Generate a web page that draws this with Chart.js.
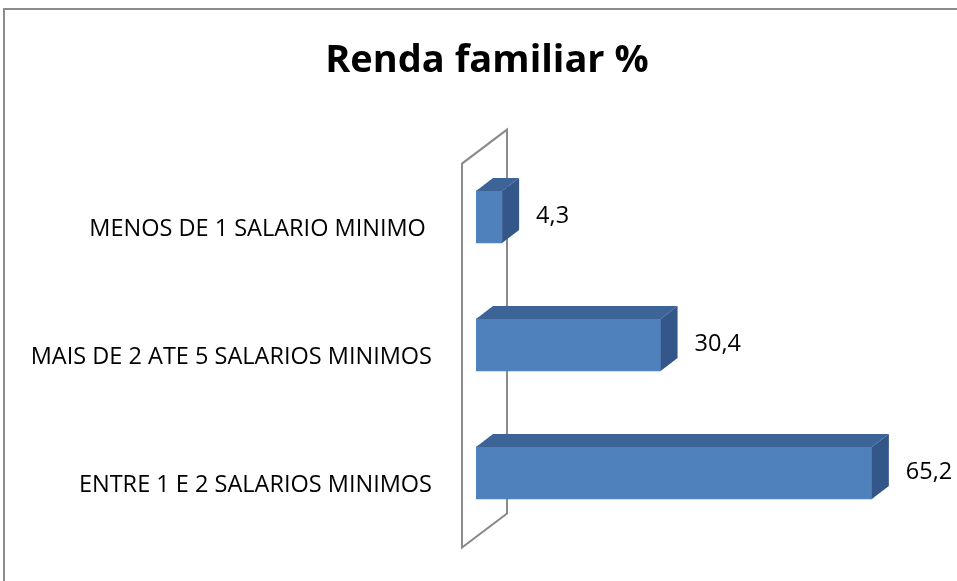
<!DOCTYPE html>
<html>
<head>
<meta charset="utf-8">
<script src="https://cdn.jsdelivr.net/npm/chart.js@4.4.0/dist/chart.umd.min.js"></script>
<style>
    body { margin: 0; background: #fff; }
    canvas { display: block; }
</style>
</head>
<body>
<canvas id="renda-chart" width="957" height="581"></canvas>
<script>
const categories = ['MENOS DE 1 SALARIO MINIMO ', 'MAIS DE 2 ATE 5 SALARIOS MINIMOS', 'ENTRE 1 E 2 SALARIOS MINIMOS'];
const rendaValues = [4.3, 30.4, 65.2];
const axisMax = 70;
const chartTitle = 'Renda familiar %';

const FONT = "'Open Sans', 'Noto Sans', sans-serif";
const DEPTH_X = 17, DEPTH_Y = -13;        // bar depth
const WALL_X = 45, WALL_Y = -34;          // wall depth
const WALL_FRONT_X = -14, WALL_FRONT_Y = 10.6; // wall front offset from bar front

// frame lines of the chart box + title
const framePlugin = {
    id: 'frame',
    beforeDraw(chart) {
        const ctx = chart.ctx;
        ctx.save();
        ctx.fillStyle = '#ffffff';
        ctx.fillRect(0, 0, chart.width, chart.height);
        ctx.strokeStyle = '#8c8c8c';
        ctx.lineWidth = 2;
        ctx.beginPath();
        ctx.moveTo(4, chart.height);
        ctx.lineTo(4, 9);
        ctx.lineTo(chart.width, 9);
        ctx.stroke();

        ctx.fillStyle = '#000000';
        ctx.font = 'bold 38px ' + FONT;
        ctx.textAlign = 'center';
        ctx.textBaseline = 'middle';
        ctx.fillText(chartTitle, 487, 61);
        ctx.restore();
    }
};

// 3d wall behind the bars, then side/top faces and value labels
const bar3dPlugin = {
    id: 'bar3d',
    beforeDatasetsDraw(chart) {
        const ctx = chart.ctx;
        const area = chart.chartArea;
        const x0 = chart.scales.x.getPixelForValue(0) + WALL_FRONT_X;
        const top = area.top + WALL_FRONT_Y;
        const bottom = area.bottom + WALL_FRONT_Y;
        ctx.save();
        ctx.fillStyle = '#ffffff';
        ctx.strokeStyle = '#8a8a8a';
        ctx.lineWidth = 2;
        ctx.beginPath();
        ctx.moveTo(x0, bottom);
        ctx.lineTo(x0, top);
        ctx.lineTo(x0 + WALL_X, top + WALL_Y);
        ctx.lineTo(x0 + WALL_X, bottom + WALL_Y);
        ctx.closePath();
        ctx.fill();
        ctx.stroke();
        ctx.restore();
    },
    afterDatasetsDraw(chart) {
        const ctx = chart.ctx;
        const meta = chart.getDatasetMeta(0);
        ctx.save();
        meta.data.forEach((bar, i) => {
            const left = bar.base, right = bar.x;
            const top = bar.y - bar.height / 2, bottom = bar.y + bar.height / 2;

            // top face
            ctx.fillStyle = '#3d6497';
            ctx.beginPath();
            ctx.moveTo(left, top);
            ctx.lineTo(left + DEPTH_X, top + DEPTH_Y);
            ctx.lineTo(right + DEPTH_X, top + DEPTH_Y);
            ctx.lineTo(right, top);
            ctx.closePath();
            ctx.fill();

            // side face
            ctx.fillStyle = '#34578a';
            ctx.beginPath();
            ctx.moveTo(right, top);
            ctx.lineTo(right + DEPTH_X, top + DEPTH_Y);
            ctx.lineTo(right + DEPTH_X, bottom + DEPTH_Y);
            ctx.lineTo(right, bottom);
            ctx.closePath();
            ctx.fill();

            // value label
            ctx.fillStyle = '#000000';
            ctx.font = '23.5px ' + FONT;
            ctx.textAlign = 'left';
            ctx.textBaseline = 'middle';
            ctx.fillText(String(rendaValues[i]).replace('.', ','), right + 34, bar.y - 1);
        });
        ctx.restore();
    }
};

new Chart(document.getElementById('renda-chart').getContext('2d'), {
    type: 'bar',
    data: {
        labels: categories,
        datasets: [
            {
                label: chartTitle,
                data: rendaValues,
                backgroundColor: '#4f81bd',
                borderWidth: 0,
                barThickness: 52,
            },
        ],
    },
    options: {
        indexAxis: 'y',
        responsive: false,
        animation: false,
        layout: { padding: { left: 0, right: 56, top: 153, bottom: 44 } },
        plugins: {
            legend: { display: false },
            tooltip: { enabled: false },
            title: { display: false },
        },
        scales: {
            x: { display: false, min: 0, max: axisMax },
            y: {
                grid: { display: false, drawTicks: false },
                border: { display: false },
                ticks: {
                    color: '#000000',
                    font: { family: FONT, size: 23.5 },
                    padding: 44,
                    labelOffset: 12,
                },
                afterFit(scale) {
                    scale.width = 476;
                    scale.paddingTop = 0;
                    scale.paddingBottom = 0;
                },
            },
        },
    },
    plugins: [framePlugin, bar3dPlugin],
});
</script>
</body>
</html>
